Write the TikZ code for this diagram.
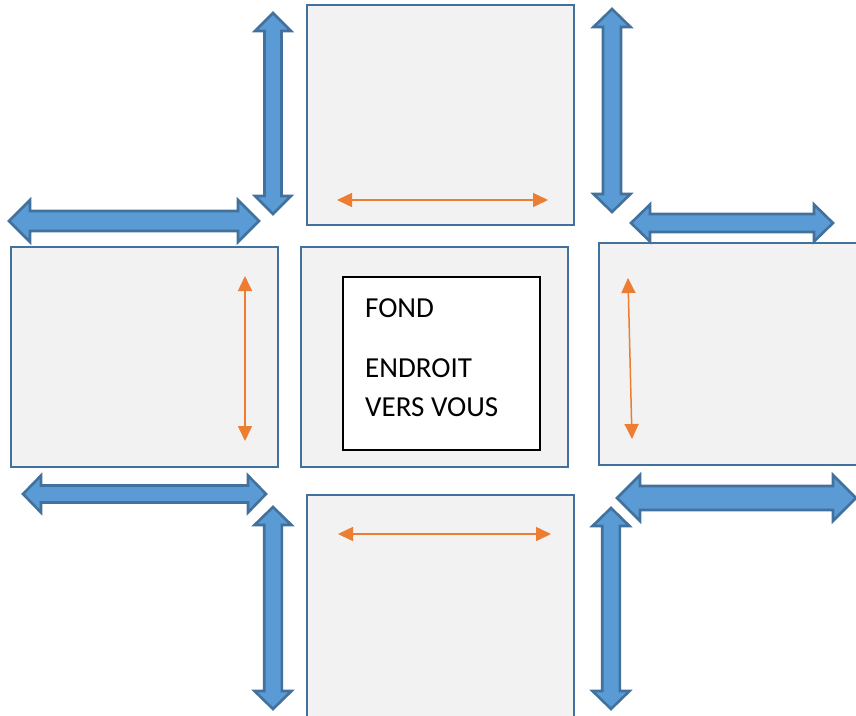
\documentclass[tikz,border=0pt]{standalone}
\usepackage{fontspec}
\setmainfont{Carlito}
\usetikzlibrary{arrows.meta}
\definecolor{bfill}{HTML}{5B9BD5}
\definecolor{bline}{HTML}{41719C}
\definecolor{pfill}{HTML}{F2F2F2}
\definecolor{oline}{HTML}{ED7D31}
\tikzset{
  panel/.style={draw=bline, fill=pfill, line width=2.6pt, minimum width=267pt, minimum height=220pt, inner sep=0pt},
  barrow/.style={draw=bline, fill=bfill, line width=2.6pt, line join=miter},
  oarrow/.style={draw=oline, line width=1.5pt, {Triangle[length=15pt,width=14pt]}-{Triangle[length=15pt,width=14pt]}},
  lbl/.style={anchor=base west, inner sep=0pt, font=\fontsize{29}{35}\selectfont}
}
% horizontal double arrow: x1 x2 y shafthalf headhalf headlen
\newcommand\harr[6]{%
\draw[barrow] (#1,#3) -- ({#1+#6},{#3-#5}) -- ({#1+#6},{#3-#4}) -- ({#2-#6},{#3-#4}) -- ({#2-#6},{#3-#5}) -- (#2,#3) -- ({#2-#6},{#3+#5}) -- ({#2-#6},{#3+#4}) -- ({#1+#6},{#3+#4}) -- ({#1+#6},{#3+#5}) -- cycle;}
% vertical double arrow: y1 y2 x shafthalf headhalf headlen
\newcommand\varr[6]{%
\draw[barrow] (#3,#1) -- ({#3-#5},{#1+#6}) -- ({#3-#4},{#1+#6}) -- ({#3-#4},{#2-#6}) -- ({#3-#5},{#2-#6}) -- (#3,#2) -- ({#3+#5},{#2-#6}) -- ({#3+#4},{#2-#6}) -- ({#3+#4},{#1+#6}) -- ({#3+#5},{#1+#6}) -- cycle;}
\begin{document}
\begin{tikzpicture}[x=1pt,y=-1pt]
\useasboundingbox (0,0) rectangle (856,715);
% panels
\node[panel] (top) at (440.5,115) {};
\node[panel] (left) at (144.5,357) {};
\node[panel] (center) at (434.5,357) {};
\node[panel, minimum height=222pt] (right) at (732.5,354) {};
\node[panel, minimum height=225pt] (bottom) at (440.5,607.5) {};
% inner text box
\node[draw=black, fill=white, line width=2.6pt, minimum width=197pt, minimum height=173pt, inner sep=0pt] (textbox) at (441.5,363.5) {};
\node[lbl] (fond) at (365,317) {FOND};
\node[lbl] (endroit) at (365,377) {ENDROIT};
\node[lbl] (vers) at (365,416) {VERS VOUS};
% blue double arrows
\varr{13}{214}{273}{8.5}{18}{18}
\varr{9}{212}{612}{9}{18.5}{18}
\harr{9}{259}{221}{10}{21}{21}
\harr{631}{833}{223}{9}{18.5}{19}
\harr{23}{266}{494}{8.5}{18.5}{18}
\harr{617}{856}{498}{12}{23}{23}
\varr{507}{709}{273}{8.8}{18.5}{18}
\varr{508}{709}{611}{8.8}{18.5}{18}
% orange arrows
\coordinate (t1) at (337,200); \coordinate (t2) at (548,200);
\coordinate (l1) at (245,276); \coordinate (l2) at (245,441);
\coordinate (r1) at (628,278); \coordinate (r2) at (632,439);
\coordinate (b1) at (338,534); \coordinate (b2) at (551,534);
\draw[oarrow] (t1) -- (t2);
\draw[oarrow] (l1) -- (l2);
\draw[oarrow] (r1) -- (r2);
\draw[oarrow] (b1) -- (b2);
\end{tikzpicture}
\end{document}
